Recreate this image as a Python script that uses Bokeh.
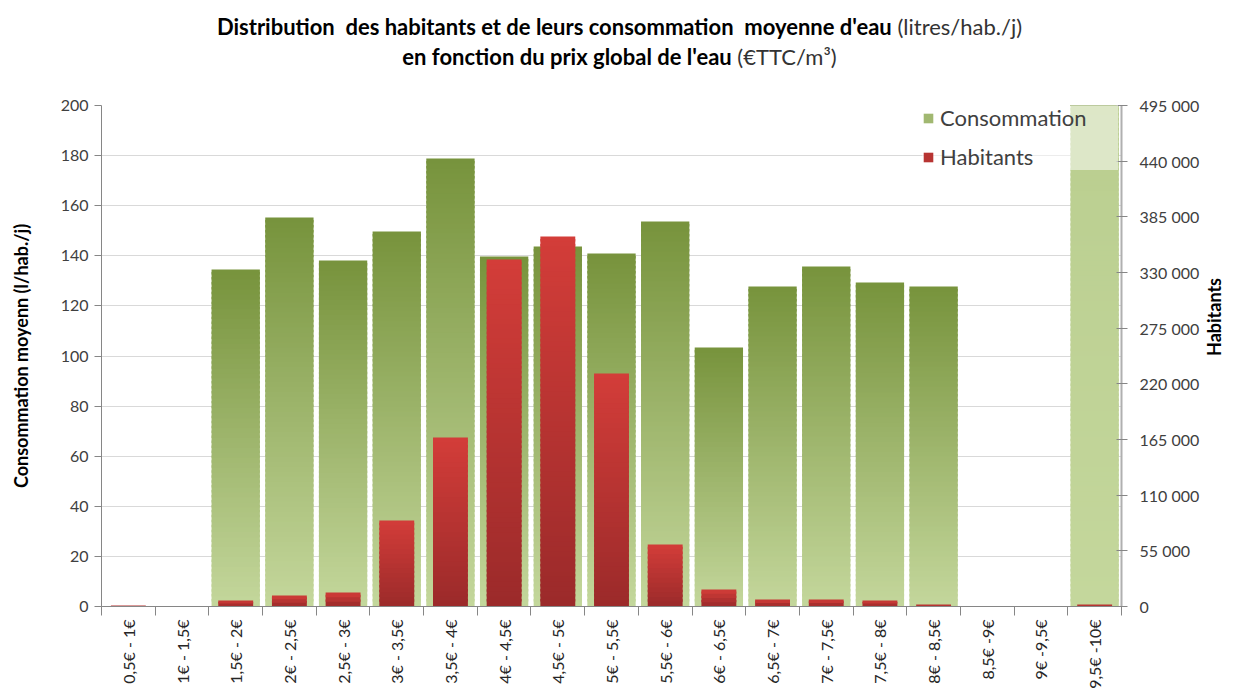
import numpy as np
from bokeh.plotting import figure
from bokeh.models import (ColumnDataSource, Range1d, LinearAxis, FixedTicker,
                          Legend, LegendItem, Div)
from bokeh.layouts import column
from bokeh.embed import file_html
from bokeh.resources import INLINE

# ---------------- data ----------------
categories = ["0,5€ - 1€", "1€ - 1,5€", "1,5€ - 2€", "2€ - 2,5€", "2,5€ - 3€",
              "3€ - 3,5€", "3,5€ - 4€", "4€ - 4,5€", "4,5€ - 5€", "5€ - 5,5€",
              "5,5€ - 6€", "6€ - 6,5€", "6,5€ - 7€", "7€ - 7,5€", "7,5€ - 8€",
              "8€ - 8,5€", "8,5€ -9€", "9€ -9,5€", "9,5€ -10€"]
consommation = [0, 0, 134.5, 155.3, 138.1, 149.7, 178.8, 139.7, 143.7, 140.9,
                153.7, 103.4, 127.7, 135.7, 129.3, 127.7, 0, 0, 1500]
habitants = [1000, 0, 5900, 10900, 13800, 85000, 167000, 342800, 365600, 230200,
             61300, 16800, 6900, 6900, 5900, 2000, 0, 0, 2000]
left_ticks = list(range(0, 201, 20))
right_ticks = list(range(0, 495001, 55000))

title_line1_bold = "Distribution  des habitants et de leurs consommation  moyenne d'eau"
title_line1_rest = "(litres/hab./j)"
title_line2_bold = "en fonction du prix global de l'eau"
title_line2_rest = "(€TTC/m³)"

FONT = "Lato"


def hex2rgb(h):
    h = h.lstrip("#")
    return [int(h[i:i + 2], 16) for i in (0, 2, 4)]


def gradient_source(values, step, top_hex, bot_hex):
    """Split every bar into thin slices so it can carry a vertical gradient
    (dark at the bar's top, light at its base)."""
    top = hex2rgb(top_hex)
    bot = hex2rgb(bot_hex)
    xs, bs, ts, cs = [], [], [], []
    for i, v in enumerate(values):
        if v <= 0:
            continue
        n = max(1, int(np.ceil(v / step)))
        for k in range(n):
            b = v * k / n
            t = min(v, v * (k + 1.5) / n)
            f = (k + 0.5) / n
            c = [round(bot[j] + (top[j] - bot[j]) * f) for j in range(3)]
            xs.append(i)
            bs.append(b)
            ts.append(t)
            cs.append("#%02x%02x%02x" % tuple(c))
    return ColumnDataSource(dict(x=xs, bottom=bs, top=ts, color=cs))


x_pos = list(range(len(categories)))

p = figure(width=1239, height=608, x_range=Range1d(-0.5, len(categories) - 0.5),
           y_range=Range1d(0, 200), output_backend="svg", toolbar_location=None,
           min_border_left=101, min_border_right=118, min_border_top=22,
           min_border_bottom=85, margin=0)
p.extra_y_ranges = {"hab": Range1d(0, 495000)}
p.outline_line_color = None
p.background_fill_color = "white"

green_src = gradient_source(consommation, 2.0, "#77933c", "#c4d79c")
red_src = gradient_source(habitants, 4950.0, "#d33d39", "#9b2a2a")

g = p.vbar(x="x", bottom="bottom", top="top", width=0.9, fill_color="color",
           line_color=None, source=green_src)
r = p.vbar(x="x", bottom="bottom", top="top", width=0.65, fill_color="color",
           line_color=None, source=red_src, y_range_name="hab")

# x axis
xa = p.xaxis[0]
xa.ticker = FixedTicker(ticks=x_pos, minor_ticks=[i - 0.5 for i in range(len(categories) + 1)])
xa.major_label_overrides = {i: c for i, c in zip(x_pos, categories)}
xa.major_label_orientation = np.pi / 2
xa.major_tick_line_color = None
xa.minor_tick_in = 0
xa.minor_tick_out = 9
xa.minor_tick_line_color = "#868686"
xa.axis_line_color = "#868686"
xa.major_label_text_font = FONT
xa.major_label_text_font_size = "16px"
xa.major_label_text_color = "#262626"
xa.major_label_standoff = 4

# left axis
ya = p.yaxis[0]
ya.ticker = FixedTicker(ticks=left_ticks)
ya.major_tick_in = 0
ya.major_tick_out = 7
ya.minor_tick_line_color = None
ya.axis_line_color = "#868686"
ya.major_tick_line_color = "#868686"
ya.major_label_text_font = FONT
ya.major_label_text_font_size = "16px"
ya.major_label_text_color = "#404040"
ya.major_label_standoff = 6
ya.axis_label = "Consommation moyenn (l/hab./j)"
ya.axis_label_text_font = FONT
ya.axis_label_text_font_size = "18px"
ya.axis_label_text_font_style = "bold"
ya.axis_label_text_color = "#000000"
ya.axis_label_standoff = 26

# right axis
ra = LinearAxis(y_range_name="hab", ticker=FixedTicker(ticks=right_ticks))
ra.major_label_overrides = {t: f"{t:,}".replace(",", " ") for t in right_ticks}
ra.major_tick_in = 5
ra.major_tick_out = 6
ra.minor_tick_line_color = None
ra.axis_line_color = "#b0b0b0"
ra.axis_line_width = 2
ra.major_tick_line_color = "#868686"
ra.major_label_text_font = FONT
ra.major_label_text_font_size = "16px"
ra.major_label_text_color = "#404040"
ra.major_label_standoff = 12
ra.axis_label = "Habitants"
ra.axis_label_text_font = FONT
ra.axis_label_text_font_size = "18px"
ra.axis_label_text_font_style = "bold"
ra.axis_label_text_color = "#000000"
ra.axis_label_standoff = 12
ra.axis_label_orientation = np.pi / 2
p.add_layout(ra, "right")

# grid
p.xgrid.grid_line_color = None
p.ygrid.ticker = FixedTicker(ticks=left_ticks)
p.ygrid.grid_line_color = "#d9d9d9"

# legend
g_idx = int(np.argmax(np.array(green_src.data["x"]) == 2)) + 30
r_idx = 0
legend = Legend(items=[LegendItem(label="Consommation", renderers=[g], index=g_idx),
                       LegendItem(label="Habitants", renderers=[r], index=r_idx)],
                location=(821, 436))
legend.background_fill_color = "white"
legend.background_fill_alpha = 0.5
legend.border_line_color = None
legend.label_text_font = FONT
legend.label_text_font_size = "22px"
legend.label_text_color = "#404040"
legend.label_width = 178
legend.glyph_width = 12
legend.glyph_height = 12
legend.spacing = 12
legend.padding = 0
legend.margin = 0
legend.label_standoff = 6
p.add_layout(legend)

title_html = (
    '<div style="width:1239px;text-align:center;font-family:Lato;font-size:22px;'
    'line-height:30px;color:#000;white-space:pre-wrap;padding-top:12px;">'
    f'<b>{title_line1_bold}</b> <span style="color:#333">{title_line1_rest}</span><br>'
    f'<b>{title_line2_bold}</b> <span style="color:#333">{title_line2_rest}</span></div>'
)
div = Div(text=title_html, width=1239, height=83, margin=0)

layout = column(div, p, margin=0)
open("out.html", "w").write(file_html(layout, INLINE))
